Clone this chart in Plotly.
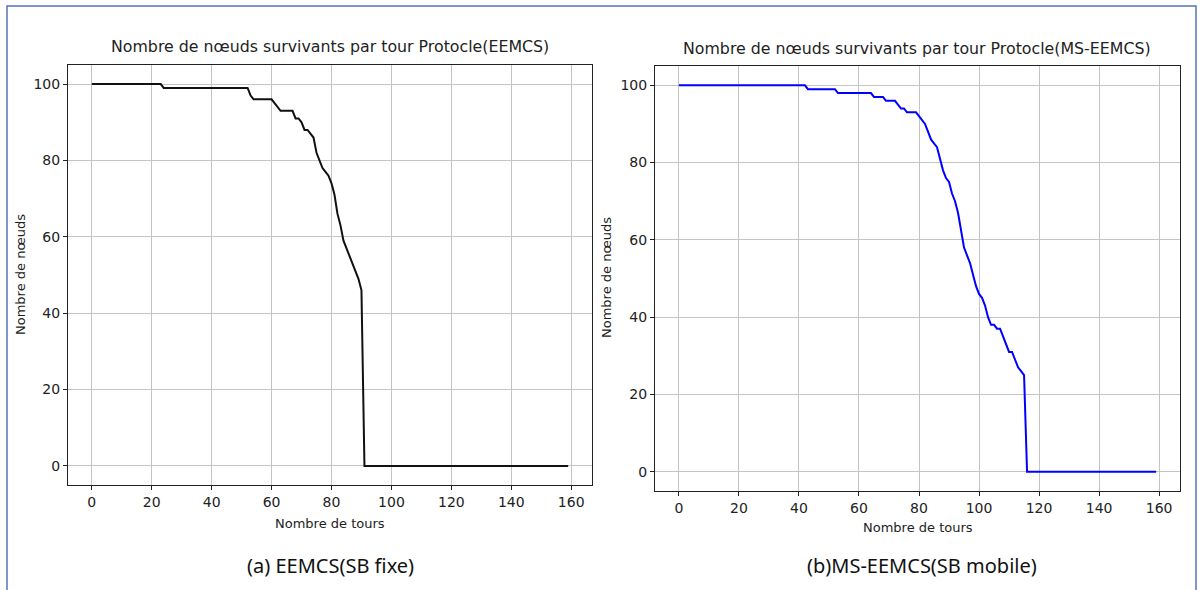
import plotly.graph_objects as go

# ---------------- data ----------------
rounds = list(range(160))
x_ticks = [0, 20, 40, 60, 80, 100, 120, 140, 160]
y_ticks = [0, 20, 40, 60, 80, 100]

eemcs_alive = [
    100, 100, 100, 100, 100, 100, 100, 100, 100, 100,
    100, 100, 100, 100, 100, 100, 100, 100, 100, 100,
    100, 100, 100, 100, 99, 99, 99, 99, 99, 99,
    99, 99, 99, 99, 99, 99, 99, 99, 99, 99,
    99, 99, 99, 99, 99, 99, 99, 99, 99, 99,
    99, 99, 99, 97, 96, 96, 96, 96, 96, 96,
    96, 95, 94, 93, 93, 93, 93, 93, 91, 91,
    90, 88, 88, 87, 86, 82, 80, 78, 77, 76,
    74, 71, 66, 63, 59, 57, 55, 53, 51, 49,
    46, 0, 0, 0, 0, 0, 0, 0, 0, 0,
    0, 0, 0, 0, 0, 0, 0, 0, 0, 0,
    0, 0, 0, 0, 0, 0, 0, 0, 0, 0,
    0, 0, 0, 0, 0, 0, 0, 0, 0, 0,
    0, 0, 0, 0, 0, 0, 0, 0, 0, 0,
    0, 0, 0, 0, 0, 0, 0, 0, 0, 0,
    0, 0, 0, 0, 0, 0, 0, 0, 0, 0,
]

ms_eemcs_alive = [
    100, 100, 100, 100, 100, 100, 100, 100, 100, 100,
    100, 100, 100, 100, 100, 100, 100, 100, 100, 100,
    100, 100, 100, 100, 100, 100, 100, 100, 100, 100,
    100, 100, 100, 100, 100, 100, 100, 100, 100, 100,
    100, 100, 100, 99, 99, 99, 99, 99, 99, 99,
    99, 99, 99, 98, 98, 98, 98, 98, 98, 98,
    98, 98, 98, 98, 98, 97, 97, 97, 97, 96,
    96, 96, 96, 95, 94, 94, 93, 93, 93, 93,
    92, 91, 90, 88, 86, 85, 84, 81, 78, 76,
    75, 72, 70, 67, 62, 58, 56, 54, 51, 48,
    46, 45, 43, 40, 38, 38, 37, 37, 35, 33,
    31, 31, 29, 27, 26, 25, 0, 0, 0, 0,
    0, 0, 0, 0, 0, 0, 0, 0, 0, 0,
    0, 0, 0, 0, 0, 0, 0, 0, 0, 0,
    0, 0, 0, 0, 0, 0, 0, 0, 0, 0,
    0, 0, 0, 0, 0, 0, 0, 0, 0, 0,
]

title_a = "Nombre de nœuds survivants par tour Protocle(EEMCS)"
title_b = "Nombre de nœuds survivants par tour Protocle(MS-EEMCS)"
x_label = "Nombre de tours"
y_label = "Nombre de nœuds"
caption_a = "(a) EEMCS(SB fixe)"
caption_b = "(b)MS-EEMCS(SB mobile)"

# ---------------- figure ----------------
W, H = 1200, 590
FONT = "DejaVu Sans"

fig = go.Figure()
fig.add_trace(go.Scatter(x=rounds, y=eemcs_alive, mode="lines",
                         line=dict(color="#111111", width=2),
                         xaxis="x", yaxis="y", showlegend=False))
fig.add_trace(go.Scatter(x=rounds, y=ms_eemcs_alive, mode="lines",
                         line=dict(color="#0000ff", width=2),
                         xaxis="x2", yaxis="y2", showlegend=False))


def px_x(p):
    return p / W


def px_y(p):
    return 1 - p / H


axis_common = dict(
    showline=True, mirror=True, linecolor="#222222", linewidth=1,
    ticks="outside", ticklen=4, tickcolor="#222222", tickwidth=1,
    showgrid=True, gridcolor="#c4c4c4", gridwidth=1, zeroline=False,
    tickfont=dict(family=FONT, size=14, color="#222222"),
)

xr = [-7.95, 166.95]
yr = [-5, 105]

fig.update_layout(
    width=W, height=H,
    margin=dict(l=0, r=0, t=0, b=0),
    paper_bgcolor="white", plot_bgcolor="white",
    xaxis=dict(domain=[px_x(68), px_x(592)], range=xr, tickvals=x_ticks,
               anchor="y", **axis_common),
    yaxis=dict(domain=[px_y(485), px_y(65)], range=yr, tickvals=y_ticks,
               anchor="x", **axis_common),
    xaxis2=dict(domain=[px_x(655), px_x(1180)], range=xr, tickvals=x_ticks,
                anchor="y2", **axis_common),
    yaxis2=dict(domain=[px_y(491), px_y(66)], range=yr, tickvals=y_ticks,
                anchor="x2", **axis_common),
)

annotations = []


def add_text(text, x, y, size, family=FONT, angle=0, color="#222222"):
    annotations.append(dict(
        text=text, x=px_x(x), y=px_y(y), xref="paper", yref="paper",
        showarrow=False, xanchor="center", yanchor="middle",
        textangle=angle, font=dict(family=family, size=size, color=color)))


add_text(title_a, 330, 47, 15.8)
add_text(title_b, 917, 48, 15.8)
add_text(x_label, 330, 523, 13)
add_text(x_label, 918, 527, 13)
add_text(y_label, 20, 275, 13, angle=-90)
add_text(y_label, 606, 278, 13, angle=-90)
add_text(caption_a, 330, 565, 20, family="Noto Sans", color="#111111")
add_text(caption_b, 922, 565, 20, family="Noto Sans", color="#111111")

fig.update_layout(annotations=annotations)

# document frame
fig.add_shape(type="rect", xref="paper", yref="paper",
              x0=px_x(7), x1=px_x(1196), y0=px_y(600), y1=px_y(6),
              line=dict(color="#5576b5", width=1.5), fillcolor="rgba(0,0,0,0)")

fig.write_html(
    "out.html",
    config={"displayModeBar": False},
    post_script="document.body.style.margin='0';document.body.style.overflow='hidden';",
)
